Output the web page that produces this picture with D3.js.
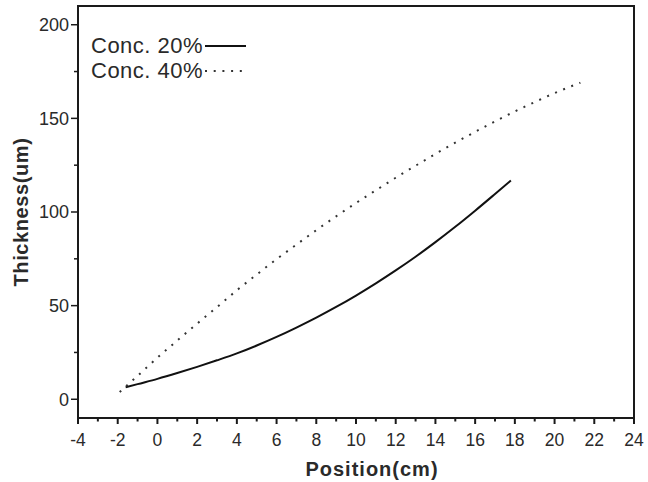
<!DOCTYPE html>
<html>
<head>
<meta charset="utf-8">
<script src="https://cdn.jsdelivr.net/npm/d3@7"></script>
<style>
  html, body { margin: 0; padding: 0; background: #fff; }
  svg { display: block; font-family: "Liberation Sans", Arial, sans-serif; }
</style>
</head>
<body>
<svg id="chart" width="648" height="482"></svg>
<script>
// Film thickness along the substrate for two concentrations
const seriesNames = ["Conc. 20%", "Conc. 40%"];

const posConc20 = [-1.6, -1, 0, 1, 2, 3, 4, 5, 6, 7, 8, 9, 10, 11, 12, 13, 14, 15, 16, 17, 17.8];
const thickConc20 = [6.4, 8.1, 10.9, 14.0, 17.3, 20.8, 24.5, 28.7, 33.3, 38.3, 43.6, 49.3, 55.4, 61.9, 68.8, 76.1, 83.9, 92.1, 100.7, 109.6, 116.8];

const posConc40 = [-1.9, -1, 0, 1, 2, 3, 4, 5, 6, 7, 8, 9, 10, 11, 12, 13, 14, 15, 16, 17, 18, 19, 20, 21, 21.3];
const thickConc40 = [3.9, 12.5, 22.2, 31.4, 40.4, 49.2, 58.2, 66.6, 74.8, 82.6, 90.3, 97.7, 104.8, 111.6, 118.3, 124.7, 131.0, 137.0, 142.8, 148.4, 153.7, 158.7, 163.5, 167.8, 169.0];

const xMajorTicks = [-4, -2, 0, 2, 4, 6, 8, 10, 12, 14, 16, 18, 20, 22, 24];
const xMinorTicks = [-3, -1, 1, 3, 5, 7, 9, 11, 13, 15, 17, 19, 21, 23];
const yMajorTicks = [0, 50, 100, 150, 200];
const yMinorTicks = [25, 75, 125, 175];

const svg = d3.select("#chart");
const plotLeft = 78, plotRight = 634, plotTop = 6, plotBottom = 418;

const x = d3.scaleLinear().domain([-4, 24]).range([plotLeft, plotRight]);
const y = d3.scaleLinear().domain([-10, 210]).range([plotBottom, plotTop]);

const ink = "#1a1a1a";
const textInk = "#2a2a2a";

// x axis ticks
const xAxis = svg.append("g");
xAxis.selectAll("line.major").data(xMajorTicks).join("line")
  .attr("class", "major")
  .attr("x1", d => x(d)).attr("x2", d => x(d))
  .attr("y1", plotBottom).attr("y2", plotBottom + 6)
  .attr("stroke", ink).attr("stroke-width", 2);
xAxis.selectAll("line.minor").data(xMinorTicks).join("line")
  .attr("class", "minor")
  .attr("x1", d => x(d)).attr("x2", d => x(d))
  .attr("y1", plotBottom).attr("y2", plotBottom + 3.5)
  .attr("stroke", ink).attr("stroke-width", 2);
xAxis.selectAll("text").data(xMajorTicks).join("text")
  .attr("x", d => x(d)).attr("y", 446)
  .attr("text-anchor", "middle")
  .attr("font-size", 17.5).attr("fill", textInk)
  .text(d => d);

// y axis ticks
const yAxis = svg.append("g");
yAxis.selectAll("line.major").data(yMajorTicks).join("line")
  .attr("class", "major")
  .attr("x1", plotLeft - 7).attr("x2", plotLeft)
  .attr("y1", d => y(d)).attr("y2", d => y(d))
  .attr("stroke", ink).attr("stroke-width", 1.5);
yAxis.selectAll("line.minor").data(yMinorTicks).join("line")
  .attr("class", "minor")
  .attr("x1", plotLeft - 4).attr("x2", plotLeft)
  .attr("y1", d => y(d)).attr("y2", d => y(d))
  .attr("stroke", ink).attr("stroke-width", 1.5);
yAxis.selectAll("text").data(yMajorTicks).join("text")
  .attr("x", plotLeft - 9).attr("y", d => y(d))
  .attr("dy", "0.36em")
  .attr("text-anchor", "end")
  .attr("font-size", 18).attr("fill", textInk)
  .text(d => d);

// frame
svg.append("rect")
  .attr("x", plotLeft).attr("y", plotTop)
  .attr("width", plotRight - plotLeft).attr("height", plotBottom - plotTop)
  .attr("fill", "none").attr("stroke", ink).attr("stroke-width", 2);

// axis titles
svg.append("text")
  .attr("x", 372).attr("y", 476)
  .attr("text-anchor", "middle")
  .attr("font-size", 20).attr("font-weight", "bold")
  .attr("letter-spacing", 1).attr("fill", textInk)
  .text("Position(cm)");
svg.append("text")
  .attr("transform", `translate(28,${(plotTop + plotBottom) / 2}) rotate(-90)`)
  .attr("text-anchor", "middle")
  .attr("font-size", 20).attr("font-weight", "bold")
  .attr("letter-spacing", 0.6).attr("fill", textInk)
  .text("Thickness(um)");

// curves
const line = d3.line().x(d => x(d[0])).y(d => y(d[1])).curve(d3.curveMonotoneX);
const data20 = posConc20.map((p, i) => [p, thickConc20[i]]);
const data40 = posConc40.map((p, i) => [p, thickConc40[i]]);

svg.append("path").datum(data20)
  .attr("d", line).attr("fill", "none")
  .attr("stroke", "#111").attr("stroke-width", 2);
svg.append("path").datum(data40)
  .attr("d", line).attr("fill", "none")
  .attr("stroke", "#333").attr("stroke-width", 2)
  .attr("stroke-dasharray", "2,6.7");

// legend
const legend = svg.append("g");
const legendRows = [
  { name: seriesNames[0], dash: null, base: 53 },
  { name: seriesNames[1], dash: "2,6.7", base: 78 }
];
legendRows.forEach(r => {
  legend.append("text")
    .attr("x", 91).attr("y", r.base)
    .attr("font-size", 22).attr("letter-spacing", 0.5).attr("fill", textInk)
    .text(r.name);
  legend.append("line")
    .attr("x1", 205).attr("x2", 246)
    .attr("y1", r.base - 7).attr("y2", r.base - 7)
    .attr("stroke", r.dash ? "#333" : "#111").attr("stroke-width", 2)
    .attr("stroke-dasharray", r.dash);
});
</script>
</body>
</html>
